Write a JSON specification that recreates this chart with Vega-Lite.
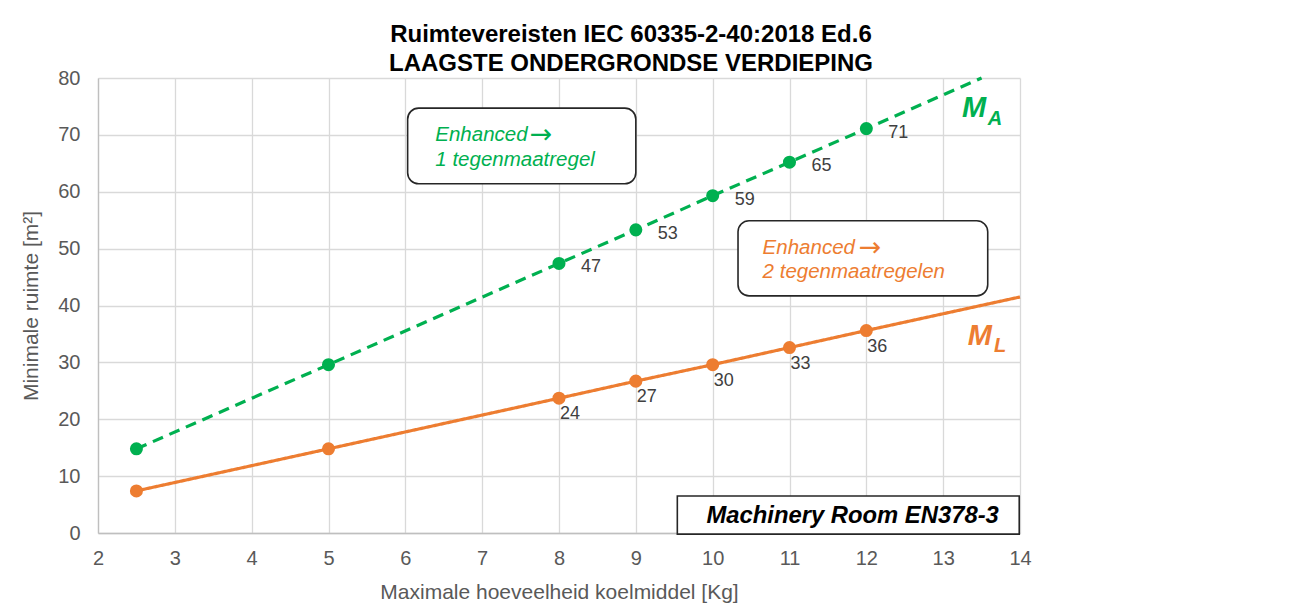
{
  "$schema": "https://vega.github.io/schema/vega-lite/v6.json",
  "width": 922,
  "height": 455,
  "autosize": {"type": "none"},
  "padding": {"left": 98, "top": 78, "right": 272, "bottom": 74},
  "background": "white",
  "config": {
    "font": "Liberation Sans",
    "view": {"stroke": null},
    "axis": {
      "gridColor": "#d9d9d9",
      "gridWidth": 1.3,
      "domainColor": "#bfbfbf",
      "domainWidth": 1.3,
      "ticks": false,
      "labelColor": "#595959",
      "labelFontSize": 20,
      "labelFlush": false,
      "titleColor": "#595959",
      "titleFontSize": 21,
      "titleFontWeight": "normal"
    }
  },
  "title": {
    "text": ["Ruimtevereisten IEC 60335-2-40:2018 Ed.6", "LAAGSTE ONDERGRONDSE VERDIEPING"],
    "fontSize": 24,
    "fontWeight": "bold",
    "color": "#000000",
    "anchor": "middle",
    "dx": 72,
    "offset": -8,
    "lineHeight": 29
  },
  "datasets": {
    "series": [
      {"series": "MA", "kg": 2.5, "m2": 14.8, "marker": true},
      {"series": "MA", "kg": 5, "m2": 29.6, "marker": true},
      {"series": "MA", "kg": 8, "m2": 47.4, "marker": true},
      {"series": "MA", "kg": 9, "m2": 53.3, "marker": true},
      {"series": "MA", "kg": 10, "m2": 59.3, "marker": true},
      {"series": "MA", "kg": 11, "m2": 65.2, "marker": true},
      {"series": "MA", "kg": 12, "m2": 71.1, "marker": true},
      {"series": "MA", "kg": 13.5, "m2": 80, "marker": false},
      {"series": "ML", "kg": 2.5, "m2": 7.4, "marker": true},
      {"series": "ML", "kg": 5, "m2": 14.8, "marker": true},
      {"series": "ML", "kg": 8, "m2": 23.7, "marker": true},
      {"series": "ML", "kg": 9, "m2": 26.7, "marker": true},
      {"series": "ML", "kg": 10, "m2": 29.6, "marker": true},
      {"series": "ML", "kg": 11, "m2": 32.6, "marker": true},
      {"series": "ML", "kg": 12, "m2": 35.6, "marker": true},
      {"series": "ML", "kg": 14, "m2": 41.5, "marker": false}
    ]
  },
  "layer": [
    {
      "data": {"name": "series"},
      "mark": {"type": "line", "strokeWidth": 3.2, "clip": false},
      "encoding": {
        "x": {
          "field": "kg", "type": "quantitative",
          "scale": {"domain": [2, 14], "nice": false},
          "axis": {"values": [2,3,4,5,6,7,8,9,10,11,12,13,14], "format": "d", "title": "Maximale hoeveelheid koelmiddel [Kg]", "labelPadding": 15, "titlePadding": 13, "grid": true}
        },
        "y": {
          "field": "m2", "type": "quantitative",
          "scale": {"domain": [0, 80], "nice": false},
          "axis": {"values": [0,10,20,30,40,50,60,70,80], "format": "d", "title": "Minimale ruimte [m²]", "labelPadding": 18, "titlePadding": 16, "grid": true}
        },
        "color": {"field": "series", "type": "nominal", "scale": {"domain": ["MA", "ML"], "range": ["#00B050", "#ED7D31"]}, "legend": null},
        "strokeDash": {"field": "series", "type": "nominal", "scale": {"domain": ["MA", "ML"], "range": [[11, 7], [1, 0]]}, "legend": null},
        "order": {"field": "kg", "type": "quantitative"}
      }
    },
    {
      "data": {"name": "series"},
      "transform": [{"filter": "datum.marker"}],
      "mark": {"type": "circle", "size": 170, "opacity": 1},
      "encoding": {
        "x": {"field": "kg", "type": "quantitative"},
        "y": {"field": "m2", "type": "quantitative"},
        "color": {"field": "series", "type": "nominal", "legend": null}
      }
    },
    {
      "data": {"name": "series"},
      "transform": [{"filter": "datum.marker && datum.kg >= 8 && datum.series == 'MA'"}],
      "mark": {"type": "text", "align": "left", "baseline": "middle", "dx": 22, "dy": 4, "fontSize": 18, "color": "#404040"},
      "encoding": {
        "x": {"field": "kg", "type": "quantitative"},
        "y": {"field": "m2", "type": "quantitative"},
        "text": {"field": "m2", "type": "quantitative", "format": ".0f"}
      }
    },
    {
      "data": {"name": "series"},
      "transform": [{"filter": "datum.marker && datum.kg >= 8 && datum.series == 'ML'"}],
      "mark": {"type": "text", "align": "left", "baseline": "top", "dx": 1, "dy": 7, "fontSize": 18, "color": "#404040"},
      "encoding": {
        "x": {"field": "kg", "type": "quantitative"},
        "y": {"field": "m2", "type": "quantitative"},
        "text": {"field": "m2", "type": "quantitative", "format": ".0f"}
      }
    },
    {
      "data": {"values": [
        {"box": "green", "x1": 6.03, "x2": 9.0, "y1": 74.7, "y2": 61.4},
        {"box": "orange", "x1": 10.33, "x2": 13.58, "y1": 54.9, "y2": 41.7}
      ]},
      "mark": {"type": "rect", "fill": "white", "stroke": "#262626", "strokeWidth": 1.6, "cornerRadius": 11, "clip": false},
      "encoding": {
        "x": {"field": "x1", "type": "quantitative"},
        "x2": {"field": "x2"},
        "y": {"field": "y1", "type": "quantitative"},
        "y2": {"field": "y2"}
      }
    },
    {
      "data": {"values": [
        {"x1": 9.54, "x2": 13.99, "y1": 6.5, "y2": -0.2}
      ]},
      "mark": {"type": "rect", "fill": "white", "stroke": "#262626", "strokeWidth": 1.6, "clip": false},
      "encoding": {
        "x": {"field": "x1", "type": "quantitative"},
        "x2": {"field": "x2"},
        "y": {"field": "y1", "type": "quantitative"},
        "y2": {"field": "y2"}
      }
    },
    {
      "data": {"values": [
        {"x": 6.39, "y": 68.9, "t": "Enhanced"},
        {"x": 6.39, "y": 64.6, "t": "1 tegenmaatregel"}
      ]},
      "mark": {"type": "text", "align": "left", "baseline": "alphabetic", "fontSize": 20.5, "fontStyle": "italic", "color": "#00B050"},
      "encoding": {
        "x": {"field": "x", "type": "quantitative"},
        "y": {"field": "y", "type": "quantitative"},
        "text": {"field": "t"}
      }
    },
    {
      "data": {"values": [
        {"x": 10.65, "y": 49.0, "t": "Enhanced"},
        {"x": 10.65, "y": 44.8, "t": "2 tegenmaatregelen"}
      ]},
      "mark": {"type": "text", "align": "left", "baseline": "alphabetic", "fontSize": 20.5, "fontStyle": "italic", "color": "#ED7D31"},
      "encoding": {
        "x": {"field": "x", "type": "quantitative"},
        "y": {"field": "y", "type": "quantitative"},
        "text": {"field": "t"}
      }
    },
    {
      "data": {"values": [
        {"x": 7.62, "y": 68.6, "t": "→", "s": "MA"},
        {"x": 11.9, "y": 48.7, "t": "→", "s": "ML"}
      ]},
      "mark": {"type": "text", "align": "left", "baseline": "alphabetic", "fontSize": 27, "font": "DejaVu Sans"},
      "encoding": {
        "x": {"field": "x", "type": "quantitative"},
        "y": {"field": "y", "type": "quantitative"},
        "text": {"field": "t"},
        "color": {"field": "s", "type": "nominal", "legend": null}
      }
    },
    {
      "data": {"values": [
        {"x": 9.92, "y": 1.7, "t": "Machinery Room EN378-3"}
      ]},
      "mark": {"type": "text", "align": "left", "baseline": "alphabetic", "fontSize": 23.8, "fontStyle": "italic", "fontWeight": "bold", "color": "#000000"},
      "encoding": {
        "x": {"field": "x", "type": "quantitative"},
        "y": {"field": "y", "type": "quantitative"},
        "text": {"field": "t"}
      }
    },
    {
      "data": {"values": [
        {"x": 13.245, "y": 73.1, "t": "M", "s": "MA"},
        {"x": 13.32, "y": 33.05, "t": "M", "s": "ML"}
      ]},
      "mark": {"type": "text", "align": "left", "baseline": "alphabetic", "fontSize": 29, "fontStyle": "italic", "fontWeight": "bold", "clip": false},
      "encoding": {
        "x": {"field": "x", "type": "quantitative"},
        "y": {"field": "y", "type": "quantitative"},
        "text": {"field": "t"},
        "color": {"field": "s", "type": "nominal", "legend": null}
      }
    },
    {
      "data": {"values": [
        {"x": 13.58, "y": 71.7, "t": "A", "s": "MA"},
        {"x": 13.66, "y": 31.8, "t": "L", "s": "ML"}
      ]},
      "mark": {"type": "text", "align": "left", "baseline": "alphabetic", "fontSize": 20, "fontStyle": "italic", "fontWeight": "bold", "clip": false},
      "encoding": {
        "x": {"field": "x", "type": "quantitative"},
        "y": {"field": "y", "type": "quantitative"},
        "text": {"field": "t"},
        "color": {"field": "s", "type": "nominal", "legend": null}
      }
    }
  ]
}
